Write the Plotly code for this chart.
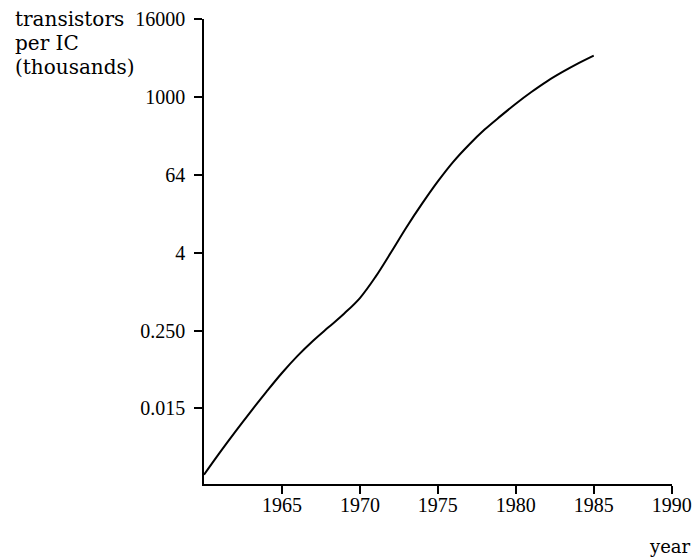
import math
import plotly.graph_objects as go

# data (transistors per IC, thousands)
years = list(range(1960, 1986))
transistors = [0.00148, 0.00322, 0.00680, 0.0140, 0.0282, 0.0552, 0.1015,
               0.174, 0.283, 0.460, 0.796, 1.69, 4.06, 9.99, 23.1, 50.6,
               102.5, 187, 320, 512, 803, 1218, 1783, 2487, 3373, 4451]

x_ticks = [1965, 1970, 1975, 1980, 1985, 1990]
y_tickvals = [2 ** -6, 2 ** -2, 2 ** 2, 2 ** 6, 2 ** 10, 2 ** 14]
y_ticktext = ["0.015", "0.250", "4", "64", "1000", "16000"]
y_title_lines = ["transistors", "per IC", "(thousands)"]
x_title = "year"

L, R, T, B = 204, 24, 19, 74
W, H = 696, 558
pw, ph = W - L - R, H - T - B

fig = go.Figure()
fig.add_trace(go.Scatter(
    x=years, y=transistors, mode="lines",
    line=dict(color="black", width=2, shape="spline", smoothing=1.0),
    hoverinfo="skip", showlegend=False,
))

tick_font = dict(family="Liberation Serif", size=20, color="black")
word_font = dict(family="DejaVu Serif", size=20, color="black")

fig.update_xaxes(
    range=[1960, 1990.02], tickvals=x_ticks, ticktext=[str(v) for v in x_ticks],
    showline=True, linecolor="black", linewidth=1.5,
    ticks="outside", ticklen=8, tickwidth=1.5, tickcolor="black",
    showgrid=False, zeroline=False, tickfont=tick_font, automargin=False,
    ticklabelstandoff=-6,
)
fig.update_yaxes(
    type="log",
    range=[-9.88 * math.log10(2), 14 * math.log10(2) + 0.0005],
    tickvals=y_tickvals, ticktext=y_ticktext,
    showline=True, linecolor="black", linewidth=1.5,
    ticks="outside", ticklen=8, tickwidth=1.5, tickcolor="black",
    showgrid=False, zeroline=False, tickfont=tick_font, automargin=False,
    ticklabelstandoff=5,
)

for line, ypix in zip(y_title_lines, [19, 43, 67]):
    fig.add_annotation(
        text=line, xref="paper", yref="paper",
        x=(13 - L) / pw, y=(H - B - ypix) / ph,
        xanchor="left", yanchor="middle", showarrow=False,
        font=word_font,
    )
fig.add_annotation(
    text=x_title, xref="paper", yref="paper",
    x=(670 - L) / pw, y=(H - B - 546) / ph,
    xanchor="center", yanchor="middle", showarrow=False,
    font=dict(family="DejaVu Serif", size=18, color="black"),
)

fig.update_layout(
    width=W, height=H,
    margin=dict(l=L, r=R, t=T, b=B, pad=0),
    paper_bgcolor="white", plot_bgcolor="white",
    showlegend=False,
)

fig.write_html("out.html", config={"displayModeBar": False},
               post_script="document.body.style.margin='0';")
